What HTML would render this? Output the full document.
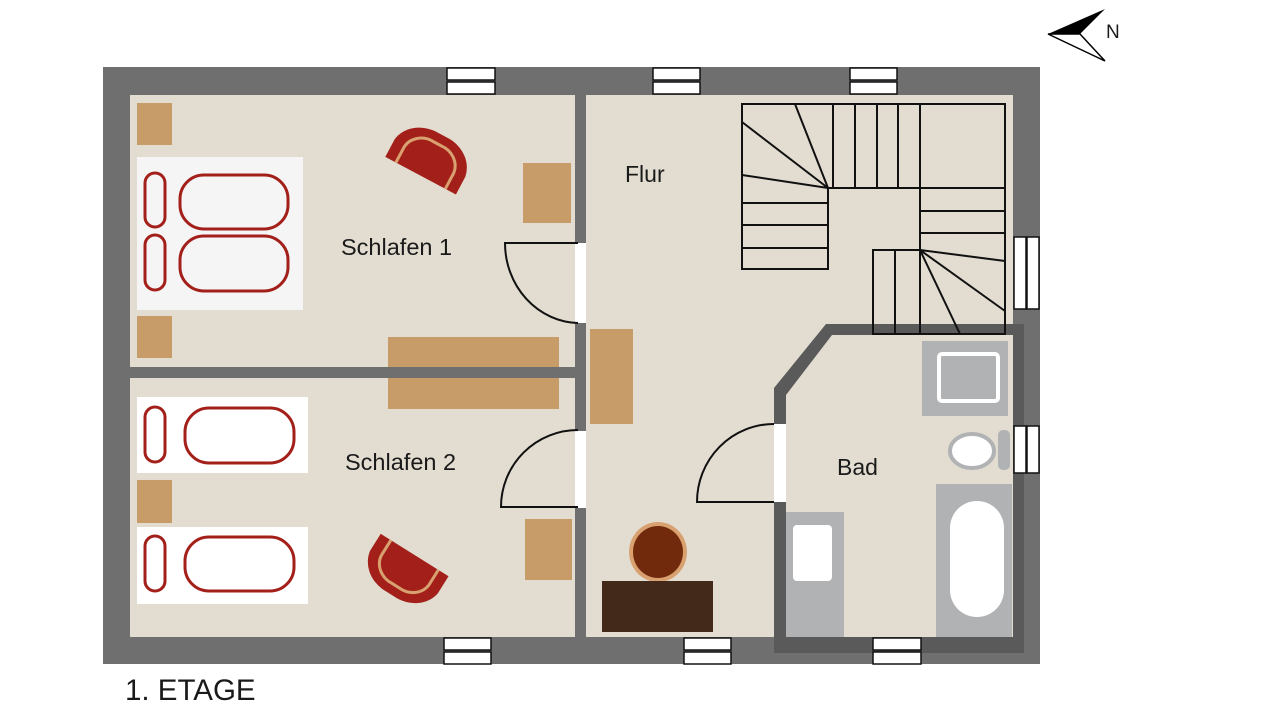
<!DOCTYPE html>
<html><head><meta charset="utf-8"><style>
html,body{margin:0;padding:0;background:#fff;}
svg{display:block;}
text{font-family:"Liberation Sans",sans-serif;fill:#1a1a1a;}
</style></head><body>
<svg width="1280" height="720" viewBox="0 0 1280 720" xmlns="http://www.w3.org/2000/svg">
<rect x="0" y="0" width="1280" height="720" fill="#fff"/>
<rect x="103" y="67" width="937" height="597" fill="#6f6f6f"/>
<rect x="130" y="95" width="883" height="542" fill="#e2ddd0"/>
<rect x="388" y="337" width="171" height="72" fill="#c89c68"/>
<rect x="130" y="367" width="455" height="11" fill="#6f6f6f"/>
<rect x="575" y="95" width="11" height="542" fill="#6f6f6f"/>
<path d="M774,388 L826,324 L1024,324 L1024,653 L774,653 Z" fill="#5a5a5a"/>
<path d="M786,395 L832,335 L1013,335 L1013,637 L786,637 Z" fill="#e2ddd0"/>
<rect x="575" y="243" width="11" height="80" fill="#fff"/>
<rect x="575" y="431" width="11" height="77" fill="#fff"/>
<rect x="774" y="424" width="12" height="78" fill="#fff"/>
<g fill="none" stroke="#111" stroke-width="2">
<path d="M578,243 L505,243 A75,80 0 0 0 578,323"/>
<path d="M578,507 L501,507 A77,77 0 0 1 578,430"/>
<path d="M774,502 L697,502 A77,78 0 0 1 774,424"/>
</g>
<g fill="#fff" stroke="#111" stroke-width="1.5">
<rect x="447" y="68" width="48" height="12"/><rect x="447" y="82" width="48" height="12"/>
<rect x="653" y="68" width="47" height="12"/><rect x="653" y="82" width="47" height="12"/>
<rect x="850" y="68" width="47" height="12"/><rect x="850" y="82" width="47" height="12"/>
<rect x="444" y="638" width="47" height="12"/><rect x="444" y="652" width="47" height="12"/>
<rect x="684" y="638" width="47" height="12"/><rect x="684" y="652" width="47" height="12"/>
<rect x="873" y="638" width="48" height="12"/><rect x="873" y="652" width="48" height="12"/>
<rect x="1014" y="237" width="12" height="72"/><rect x="1027" y="237" width="12" height="72"/>
<rect x="1014" y="426" width="12" height="47"/><rect x="1027" y="426" width="12" height="47"/>
</g>
<rect x="137" y="103" width="35" height="42" fill="#c89c68"/>
<rect x="137" y="316" width="35" height="42" fill="#c89c68"/>
<rect x="137" y="157" width="166" height="153" fill="#f5f5f5"/>
<g fill="none" stroke="#a3201a" stroke-width="3">
<rect x="145" y="173" width="20" height="54" rx="10"/>
<rect x="145" y="235" width="20" height="55" rx="10"/>
<rect x="180" y="175" width="108" height="54" rx="24"/>
<rect x="180" y="236" width="108" height="55" rx="24"/>
</g>
<rect x="523" y="163" width="48" height="60" fill="#c89c68"/>
<g transform="translate(430,158) rotate(28)">
<path d="M-40,20 L-40,0 A34,30 0 0 1 -8,-26 L8,-26 A34,30 0 0 1 40,0 L40,20 Z" fill="#a3201a"/>
<path d="M-28,20 L-28,2 A22,20 0 0 1 -4,-16 L4,-16 A22,20 0 0 1 28,2 L28,20" fill="none" stroke="#d9a170" stroke-width="3"/>
</g>
<rect x="137" y="397" width="171" height="76" fill="#fff"/>
<rect x="137" y="527" width="171" height="77" fill="#fff"/>
<rect x="137" y="480" width="35" height="43" fill="#c89c68"/>
<g fill="none" stroke="#a3201a" stroke-width="3">
<rect x="145" y="407" width="20" height="55" rx="10"/>
<rect x="185" y="408" width="109" height="55" rx="24"/>
<rect x="145" y="536" width="20" height="55" rx="10"/>
<rect x="185" y="537" width="109" height="54" rx="24"/>
</g>
<rect x="525" y="519" width="47" height="61" fill="#c89c68"/>
<g transform="translate(404,572) rotate(-148)">
<path d="M-40,20 L-40,0 A34,30 0 0 1 -8,-26 L8,-26 A34,30 0 0 1 40,0 L40,20 Z" fill="#a3201a"/>
<path d="M-28,20 L-28,2 A22,20 0 0 1 -4,-16 L4,-16 A22,20 0 0 1 28,2 L28,20" fill="none" stroke="#d9a170" stroke-width="3"/>
</g>
<rect x="590" y="329" width="43" height="95" fill="#c89c68"/>
<ellipse cx="658" cy="552" rx="29" ry="30" fill="#d9a170"/>
<ellipse cx="658" cy="552" rx="25" ry="26" fill="#722a0c"/>
<rect x="602" y="581" width="111" height="51" fill="#43291a"/>
<g fill="none" stroke="#111" stroke-width="2">
<path d="M742,104 L1005,104 L1005,334 L873,334 L873,250 L920,250 L920,188 L828,188 L828,269 L742,269 Z"/>
<path d="M833,104 V188 M855,104 V188 M877,104 V188 M898,104 V188 M920,104 V188"/>
<path d="M920,188 H1005 M920,211 H1005 M920,233 H1005"/>
<path d="M742,203 H828 M742,225 H828 M742,248 H828"/>
<path d="M828,188 L742,122 M828,188 L795,104 M828,188 L742,175"/>
<path d="M895,250 V334 M920,250 V334"/>
<path d="M920,250 L1005,261 M920,250 L1005,311 M920,250 L960,334"/>
</g>
<rect x="922" y="341" width="86" height="75" fill="#b1b2b4"/>
<rect x="939" y="354" width="59" height="47" rx="3" fill="#b1b2b4" stroke="#fff" stroke-width="4"/>
<rect x="998" y="430" width="12" height="40" rx="5" fill="#b1b2b4"/>
<ellipse cx="972" cy="451" rx="22" ry="17" fill="#fff" stroke="#b1b2b4" stroke-width="4"/>
<rect x="936" y="484" width="76" height="153" fill="#b1b2b4"/>
<rect x="950" y="501" width="54" height="116" rx="27" fill="#fff"/>
<rect x="786" y="512" width="58" height="125" fill="#b1b2b4"/>
<rect x="793" y="525" width="39" height="56" rx="4" fill="#fff"/>
<text x="625" y="182" font-size="23">Flur</text>
<text x="341" y="255" font-size="23.5">Schlafen 1</text>
<text x="345" y="470" font-size="23.5">Schlafen 2</text>
<text x="837" y="475" font-size="23">Bad</text>
<text x="125" y="700" font-size="29.5">1. ETAGE</text>
<path d="M1048,34 L1105,9 L1080,34 Z" fill="#000"/>
<path d="M1048,34 L1080,34 L1105,61 Z" fill="none" stroke="#000" stroke-width="1.5"/>
<text x="1106" y="38" font-size="19">N</text>
</svg>
</body></html>
